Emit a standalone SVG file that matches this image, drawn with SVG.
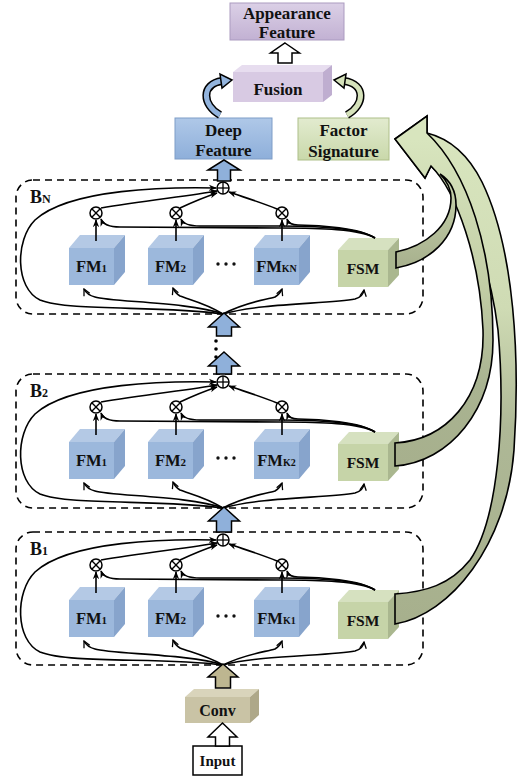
<svg xmlns="http://www.w3.org/2000/svg" width="518" height="778" viewBox="0 0 518 778">
<style>
.fm-f{fill:#9cb8dc}.fm-t{fill:#b4c9e5}.fm-r{fill:#87a4cc}
.fsm-f{fill:#c6d4a8}.fsm-t{fill:#d6e1c0}.fsm-r{fill:#aab78f}
.lbl{font-family:"Liberation Serif","Times New Roman",serif;font-weight:bold;fill:#111}
.ln{fill:none;stroke:#000;stroke-width:1.6}
.dash{fill:none;stroke:#000;stroke-width:1.6;stroke-dasharray:7 5}
.op{fill:#fff;stroke:#000;stroke-width:1.5}
.opl{stroke:#000;stroke-width:1.3}
.blk{stroke:#000;stroke-width:1.5;stroke-linejoin:miter}
.band{stroke:#000;stroke-width:1.6;stroke-linejoin:miter}
.dot{fill:#111}
</style>
<defs>
<marker id="ah" viewBox="0 0 10 10" refX="9" refY="5" markerWidth="8" markerHeight="8" orient="auto" markerUnits="userSpaceOnUse"><path d="M0,1 L10,5 L0,9 L3,5 Z" fill="#000"/></marker>
<marker id="ov" viewBox="0 0 10 10" refX="9" refY="5" markerWidth="8" markerHeight="8" orient="auto" markerUnits="userSpaceOnUse"><path d="M1,1 L9,5 L1,9" fill="none" stroke="#000" stroke-width="1.6"/></marker>
<linearGradient id="gApp" x1="0" y1="0" x2="0" y2="1"><stop offset="0" stop-color="#dbd0e6"/><stop offset="1" stop-color="#c2b1d3"/></linearGradient>
<linearGradient id="gDF" x1="0" y1="0" x2="0" y2="1"><stop offset="0" stop-color="#afc8e8"/><stop offset="1" stop-color="#8eafda"/></linearGradient>
<linearGradient id="gFS" x1="0" y1="0" x2="0" y2="1"><stop offset="0" stop-color="#e2ebcf"/><stop offset="1" stop-color="#c9d8aa"/></linearGradient>
<linearGradient id="gB1" gradientUnits="userSpaceOnUse" x1="0" y1="140" x2="0" y2="620"><stop offset="0" stop-color="#d8e5be"/><stop offset="0.35" stop-color="#cfdbb4"/><stop offset="0.6" stop-color="#aeb896"/><stop offset="1" stop-color="#a7b08d"/></linearGradient>
<linearGradient id="gB2" gradientUnits="userSpaceOnUse" x1="0" y1="140" x2="0" y2="466"><stop offset="0" stop-color="#d8e5be"/><stop offset="0.45" stop-color="#c2cda5"/><stop offset="0.75" stop-color="#a9b391"/><stop offset="1" stop-color="#a7b08d"/></linearGradient>
<linearGradient id="gBN" gradientUnits="userSpaceOnUse" x1="0" y1="175" x2="0" y2="265"><stop offset="0" stop-color="#c9d5ae"/><stop offset="1" stop-color="#a8b18e"/></linearGradient>
</defs>
<rect width="518" height="778" fill="#fff"/>

<!-- top nodes -->
<g id="appearance-feature">
<rect x="230" y="3" width="114" height="37" fill="url(#gApp)" stroke="#ab9bc0" stroke-width="1"/>
<text class="lbl" x="287" y="19" font-size="17" text-anchor="middle">Appearance</text>
<text class="lbl" x="287" y="38" font-size="17" text-anchor="middle">Feature</text>
</g>
<g id="fusion">
<polygon points="233,72 242,65 332,65 323,72" fill="#e7ddef"/>
<polygon points="323,72 332,65 332,95 323,102" fill="#bfaed0"/>
<rect x="233" y="72" width="90" height="30" fill="#d8cae3"/>
<text class="lbl" x="278" y="95" font-size="17" text-anchor="middle">Fusion</text>
</g>
<g id="deep-feature">
<rect x="175" y="118" width="97" height="41" fill="url(#gDF)" stroke="#7e9dc7" stroke-width="1"/>
<text class="lbl" x="223.5" y="136" font-size="17" text-anchor="middle">Deep</text>
<text class="lbl" x="223.5" y="156" font-size="17" text-anchor="middle">Feature</text>
</g>
<g id="factor-signature">
<rect x="298" y="118" width="91" height="42" fill="url(#gFS)" stroke="#aebf89" stroke-width="1"/>
<text class="lbl" x="343.5" y="136" font-size="17" text-anchor="middle">Factor</text>
<text class="lbl" x="343.5" y="157" font-size="17" text-anchor="middle">Signature</text>
</g>

<!-- Block BN -->
<g id="block-BN">
<rect class="dash" x="16" y="180" width="407" height="134" rx="17"/>
<text class="lbl" x="30" y="203" font-size="18">B<tspan font-size="12">N</tspan></text>
<g id="BN-sum"><circle class="op" cx="223" cy="188" r="6"/><line class="opl" x1="217" y1="188" x2="229" y2="188"/><line class="opl" x1="223" y1="182" x2="223" y2="194"/></g>
<g id="BN-mul1"><circle class="op" cx="96" cy="213" r="6"/><line class="opl" x1="91.8" y1="208.8" x2="100.2" y2="217.2"/><line class="opl" x1="91.8" y1="217.2" x2="100.2" y2="208.8"/></g>
<g id="BN-mul2"><circle class="op" cx="176" cy="213" r="6"/><line class="opl" x1="171.8" y1="208.8" x2="180.2" y2="217.2"/><line class="opl" x1="171.8" y1="217.2" x2="180.2" y2="208.8"/></g>
<g id="BN-mulK"><circle class="op" cx="282" cy="213" r="6"/><line class="opl" x1="277.8" y1="208.8" x2="286.2" y2="217.2"/><line class="opl" x1="277.8" y1="217.2" x2="286.2" y2="208.8"/></g>
<g id="BN-FM1"><rect class="fm-f" x="69" y="248" width="45" height="37"/><polygon class="fm-t" points="69,248 80,235 125,235 114,248"/><polygon class="fm-r" points="114,248 125,235 125,272 114,285"/><text class="lbl" x="91.5" y="272" font-size="16.5" text-anchor="middle">FM<tspan font-size="11">1</tspan></text></g>
<g id="BN-FM2"><rect class="fm-f" x="148" y="248" width="45" height="37"/><polygon class="fm-t" points="148,248 159,235 204,235 193,248"/><polygon class="fm-r" points="193,248 204,235 204,272 193,285"/><text class="lbl" x="170.5" y="272" font-size="16.5" text-anchor="middle">FM<tspan font-size="11">2</tspan></text></g>
<g id="BN-dots"><circle class="dot" cx="218" cy="264" r="1.7"/><circle class="dot" cx="226" cy="264" r="1.7"/><circle class="dot" cx="234" cy="264" r="1.7"/></g>
<g id="BN-FMK"><rect class="fm-f" x="254" y="248" width="45" height="37"/><polygon class="fm-t" points="254,248 265,235 310,235 299,248"/><polygon class="fm-r" points="299,248 310,235 310,272 299,285"/><text class="lbl" x="276.5" y="272" font-size="16.5" text-anchor="middle">FM<tspan font-size="10">KN</tspan></text></g>
<g id="BN-FSM"><rect class="fsm-f" x="338" y="250" width="50" height="37"/><polygon class="fsm-t" points="338,250 349,238 399,238 388,250"/><polygon class="fsm-r" points="388,250 399,238 399,275 388,287"/><text class="lbl" x="363" y="274" font-size="15.5" text-anchor="middle">FSM</text></g>
</g>

<!-- Block B2 -->
<g id="block-B2" transform="translate(0,194)">
<rect class="dash" x="16" y="180" width="407" height="134" rx="17"/>
<text class="lbl" x="30" y="203" font-size="18">B<tspan font-size="12">2</tspan></text>
<g id="B2-sum"><circle class="op" cx="223" cy="188" r="6"/><line class="opl" x1="217" y1="188" x2="229" y2="188"/><line class="opl" x1="223" y1="182" x2="223" y2="194"/></g>
<g id="B2-mul1"><circle class="op" cx="96" cy="213" r="6"/><line class="opl" x1="91.8" y1="208.8" x2="100.2" y2="217.2"/><line class="opl" x1="91.8" y1="217.2" x2="100.2" y2="208.8"/></g>
<g id="B2-mul2"><circle class="op" cx="176" cy="213" r="6"/><line class="opl" x1="171.8" y1="208.8" x2="180.2" y2="217.2"/><line class="opl" x1="171.8" y1="217.2" x2="180.2" y2="208.8"/></g>
<g id="B2-mulK"><circle class="op" cx="282" cy="213" r="6"/><line class="opl" x1="277.8" y1="208.8" x2="286.2" y2="217.2"/><line class="opl" x1="277.8" y1="217.2" x2="286.2" y2="208.8"/></g>
<g id="B2-FM1"><rect class="fm-f" x="69" y="248" width="45" height="37"/><polygon class="fm-t" points="69,248 80,235 125,235 114,248"/><polygon class="fm-r" points="114,248 125,235 125,272 114,285"/><text class="lbl" x="91.5" y="272" font-size="16.5" text-anchor="middle">FM<tspan font-size="11">1</tspan></text></g>
<g id="B2-FM2"><rect class="fm-f" x="148" y="248" width="45" height="37"/><polygon class="fm-t" points="148,248 159,235 204,235 193,248"/><polygon class="fm-r" points="193,248 204,235 204,272 193,285"/><text class="lbl" x="170.5" y="272" font-size="16.5" text-anchor="middle">FM<tspan font-size="11">2</tspan></text></g>
<g id="B2-dots"><circle class="dot" cx="218" cy="264" r="1.7"/><circle class="dot" cx="226" cy="264" r="1.7"/><circle class="dot" cx="234" cy="264" r="1.7"/></g>
<g id="B2-FMK"><rect class="fm-f" x="254" y="248" width="45" height="37"/><polygon class="fm-t" points="254,248 265,235 310,235 299,248"/><polygon class="fm-r" points="299,248 310,235 310,272 299,285"/><text class="lbl" x="276.5" y="272" font-size="16.5" text-anchor="middle">FM<tspan font-size="10">K2</tspan></text></g>
<g id="B2-FSM"><rect class="fsm-f" x="338" y="250" width="50" height="37"/><polygon class="fsm-t" points="338,250 349,238 399,238 388,250"/><polygon class="fsm-r" points="388,250 399,238 399,275 388,287"/><text class="lbl" x="363" y="274" font-size="15.5" text-anchor="middle">FSM</text></g>
</g>

<!-- Block B1 -->
<g id="block-B1" transform="translate(0,352)">
<rect class="dash" x="16" y="180" width="407" height="133" rx="17"/>
<text class="lbl" x="30" y="203" font-size="18">B<tspan font-size="12">1</tspan></text>
<g id="B1-sum"><circle class="op" cx="223" cy="188" r="6"/><line class="opl" x1="217" y1="188" x2="229" y2="188"/><line class="opl" x1="223" y1="182" x2="223" y2="194"/></g>
<g id="B1-mul1"><circle class="op" cx="96" cy="213" r="6"/><line class="opl" x1="91.8" y1="208.8" x2="100.2" y2="217.2"/><line class="opl" x1="91.8" y1="217.2" x2="100.2" y2="208.8"/></g>
<g id="B1-mul2"><circle class="op" cx="176" cy="213" r="6"/><line class="opl" x1="171.8" y1="208.8" x2="180.2" y2="217.2"/><line class="opl" x1="171.8" y1="217.2" x2="180.2" y2="208.8"/></g>
<g id="B1-mulK"><circle class="op" cx="282" cy="213" r="6"/><line class="opl" x1="277.8" y1="208.8" x2="286.2" y2="217.2"/><line class="opl" x1="277.8" y1="217.2" x2="286.2" y2="208.8"/></g>
<g id="B1-FM1"><rect class="fm-f" x="69" y="248" width="45" height="37"/><polygon class="fm-t" points="69,248 80,235 125,235 114,248"/><polygon class="fm-r" points="114,248 125,235 125,272 114,285"/><text class="lbl" x="91.5" y="272" font-size="16.5" text-anchor="middle">FM<tspan font-size="11">1</tspan></text></g>
<g id="B1-FM2"><rect class="fm-f" x="148" y="248" width="45" height="37"/><polygon class="fm-t" points="148,248 159,235 204,235 193,248"/><polygon class="fm-r" points="193,248 204,235 204,272 193,285"/><text class="lbl" x="170.5" y="272" font-size="16.5" text-anchor="middle">FM<tspan font-size="11">2</tspan></text></g>
<g id="B1-dots"><circle class="dot" cx="218" cy="264" r="1.7"/><circle class="dot" cx="226" cy="264" r="1.7"/><circle class="dot" cx="234" cy="264" r="1.7"/></g>
<g id="B1-FMK"><rect class="fm-f" x="254" y="248" width="45" height="37"/><polygon class="fm-t" points="254,248 265,235 310,235 299,248"/><polygon class="fm-r" points="299,248 310,235 310,272 299,285"/><text class="lbl" x="276.5" y="272" font-size="16.5" text-anchor="middle">FM<tspan font-size="10">K1</tspan></text></g>
<g id="B1-FSM"><rect class="fsm-f" x="338" y="250" width="50" height="37"/><polygon class="fsm-t" points="338,250 349,238 399,238 388,250"/><polygon class="fsm-r" points="388,250 399,238 399,275 388,287"/><text class="lbl" x="363" y="274" font-size="15.5" text-anchor="middle">FSM</text></g>
</g>

<g id="conv">
<polygon points="185,697 194,689 259,689 250,697" fill="#d9d4bb"/>
<polygon points="250,697 259,689 259,715 250,723" fill="#aea889"/>
<rect x="185" y="697" width="65" height="26" fill="#c9c3a5"/>
<text class="lbl" x="217.5" y="716" font-size="16" text-anchor="middle">Conv</text>
</g>
<g id="input">
<rect x="193" y="746" width="49" height="29" fill="#fff" stroke="#000" stroke-width="1.5"/>
<text class="lbl" x="217.5" y="766" font-size="15" text-anchor="middle">Input</text>
</g>

<!-- connectors -->
<g id="connectors">
<g id="conn-BN">
<line class="ln" x1="96" y1="241" x2="96" y2="220" marker-end="url(#ah)"/>
<line class="ln" x1="176" y1="241" x2="176" y2="220" marker-end="url(#ah)"/>
<line class="ln" x1="282" y1="241" x2="282" y2="220" marker-end="url(#ah)"/>
<path class="ln" d="M101,208 C140,201 190,196 217,191" marker-end="url(#ah)"/>
<path class="ln" d="M180,208 C195,201 205,197 217,193" marker-end="url(#ah)"/>
<path class="ln" d="M277,209 C260,202 240,196 229,192" marker-end="url(#ah)"/>
<path class="ln" d="M223,314 C160,305 70,312 40,300 C15,288 15,240 35,220 C70,188 170,187 216,188" marker-end="url(#ah)"/>
<path class="ln" d="M375,238 C360,228 320,225 298,225 Q289,225 287,219" marker-end="url(#ah)"/>
<path class="ln" d="M375,238 C360,228 320,226 280,226 L200,226 Q184,226 181,219" marker-end="url(#ah)"/>
<path class="ln" d="M375,238 C360,229 320,228 280,228 L120,227 Q104,227 101,219" marker-end="url(#ah)"/>
<path class="ln" d="M223,314 C190,302 110,302 95,297 Q87,295 84,289" marker-end="url(#ov)"/>
<path class="ln" d="M223,314 C205,303 190,300 180,296 Q175,293 173,288" marker-end="url(#ov)"/>
<path class="ln" d="M223,314 C245,302 265,300 275,297 Q280,294 282,289" marker-end="url(#ov)"/>
<path class="ln" d="M223,314 C260,303 330,304 355,299 Q363,297 364,290" marker-end="url(#ov)"/>
</g>
<g id="conn-B2" transform="translate(0,194)">
<line class="ln" x1="96" y1="241" x2="96" y2="220" marker-end="url(#ah)"/>
<line class="ln" x1="176" y1="241" x2="176" y2="220" marker-end="url(#ah)"/>
<line class="ln" x1="282" y1="241" x2="282" y2="220" marker-end="url(#ah)"/>
<path class="ln" d="M101,208 C140,201 190,196 217,191" marker-end="url(#ah)"/>
<path class="ln" d="M180,208 C195,201 205,197 217,193" marker-end="url(#ah)"/>
<path class="ln" d="M277,209 C260,202 240,196 229,192" marker-end="url(#ah)"/>
<path class="ln" d="M223,314 C160,305 70,312 40,300 C15,288 15,240 35,220 C70,188 170,187 216,188" marker-end="url(#ah)"/>
<path class="ln" d="M375,238 C360,228 320,225 298,225 Q289,225 287,219" marker-end="url(#ah)"/>
<path class="ln" d="M375,238 C360,228 320,226 280,226 L200,226 Q184,226 181,219" marker-end="url(#ah)"/>
<path class="ln" d="M375,238 C360,229 320,228 280,228 L120,227 Q104,227 101,219" marker-end="url(#ah)"/>
<path class="ln" d="M223,314 C190,302 110,302 95,297 Q87,295 84,289" marker-end="url(#ov)"/>
<path class="ln" d="M223,314 C205,303 190,300 180,296 Q175,293 173,288" marker-end="url(#ov)"/>
<path class="ln" d="M223,314 C245,302 265,300 275,297 Q280,294 282,289" marker-end="url(#ov)"/>
<path class="ln" d="M223,314 C260,303 330,304 355,299 Q363,297 364,290" marker-end="url(#ov)"/>
</g>
<g id="conn-B1" transform="translate(0,352)">
<line class="ln" x1="96" y1="241" x2="96" y2="220" marker-end="url(#ah)"/>
<line class="ln" x1="176" y1="241" x2="176" y2="220" marker-end="url(#ah)"/>
<line class="ln" x1="282" y1="241" x2="282" y2="220" marker-end="url(#ah)"/>
<path class="ln" d="M101,208 C140,201 190,196 217,191" marker-end="url(#ah)"/>
<path class="ln" d="M180,208 C195,201 205,197 217,193" marker-end="url(#ah)"/>
<path class="ln" d="M277,209 C260,202 240,196 229,192" marker-end="url(#ah)"/>
<path class="ln" d="M223,313 C160,305 70,312 40,300 C15,288 15,240 35,220 C70,188 170,187 216,188" marker-end="url(#ah)"/>
<path class="ln" d="M375,238 C360,228 320,225 298,225 Q289,225 287,219" marker-end="url(#ah)"/>
<path class="ln" d="M375,238 C360,228 320,226 280,226 L200,226 Q184,226 181,219" marker-end="url(#ah)"/>
<path class="ln" d="M375,238 C360,229 320,228 280,228 L120,227 Q104,227 101,219" marker-end="url(#ah)"/>
<path class="ln" d="M223,313 C190,302 110,302 95,297 Q87,295 84,289" marker-end="url(#ov)"/>
<path class="ln" d="M223,313 C205,303 190,300 180,296 Q175,293 173,288" marker-end="url(#ov)"/>
<path class="ln" d="M223,313 C245,302 265,300 275,297 Q280,294 282,289" marker-end="url(#ov)"/>
<path class="ln" d="M223,313 C260,303 330,304 355,299 Q363,297 364,290" marker-end="url(#ov)"/>
</g>

<!-- block arrows -->
<polygon class="blk" fill="#fff" points="285,43 299.5,53 292,53 292,63 278,63 278,53 270.5,53"/>
<polygon class="blk" fill="#8fb0da" points="224,160 240,170 230.5,170 230.5,181 217.5,181 217.5,170 208,170"/>
<polygon class="blk" fill="#8fb0da" points="224,313 239.5,327 231.5,327 231.5,336 216.5,336 216.5,327 208.5,327"/>
<circle cx="216" cy="341" r="1.8" fill="#000"/>
<circle cx="216" cy="349" r="1.8" fill="#000"/>
<circle cx="216" cy="357" r="1.8" fill="#000"/>
<polygon class="blk" fill="#8fb0da" points="224,352 239.5,366 231.5,366 231.5,374 216.5,374 216.5,366 208.5,366"/>
<polygon class="blk" fill="#8fb0da" points="224,507 239.5,521 231.5,521 231.5,532 216.5,532 216.5,521 208.5,521"/>
<polygon class="blk" fill="#bdb690" points="223,664 238,677 230.5,677 230.5,688 215.5,688 215.5,677 208,677"/>
<polygon class="blk" fill="#fff" points="222.5,723 237,737 229.5,737 229.5,746 215.5,746 215.5,737 208,737"/>

<!-- curved fusion arrows -->
<g id="df-to-fusion">
<path d="M220,115 C202,105 201,84 222,81" fill="none" stroke="#000" stroke-width="8"/>
<path d="M220,115 C202,105 201,84 222,81" fill="none" stroke="#93b4dd" stroke-width="5"/>
<polygon class="blk" fill="#93b4dd" points="232,80 220,74 222,88"/>
</g>
<g id="fs-to-fusion">
<path d="M347,115 C365,105 366,84 344,81" fill="none" stroke="#000" stroke-width="8"/>
<path d="M347,115 C365,105 366,84 344,81" fill="none" stroke="#d5e2ba" stroke-width="5"/>
<polygon class="blk" fill="#d5e2ba" points="334,80 346,74 344,88"/>
</g>

<!-- FSM to Factor Signature bands -->
<g id="fsm-to-factor">
<path class="band" fill="url(#gB1)" d="M395,624 C450,615 507,545 514,450 C520,360 515,250 482,182 C467,152 447,138 427,133 L427,116 L395,139 L425,178 L431,166 C458,192 488,250 498,330 C506,420 498,520 470,560 C450,585 425,592 395,594 Z"/>
<path class="band" fill="url(#gB2)" d="M395,466 C450,462 493,410 493,340 C493,250 468,172 427,133 L427,116 L395,139 L425,178 L431,166 C457,192 480,260 483,330 C485,400 445,440 395,443 Z"/>
<path class="band" fill="url(#gBN)" d="M396,252 C425,246 451,226 451,198 C451,189 447,181 440,174 C451,181 456,192 456,205 C456,238 430,262 396,268 Z"/>
</g>
</g>
</svg>
